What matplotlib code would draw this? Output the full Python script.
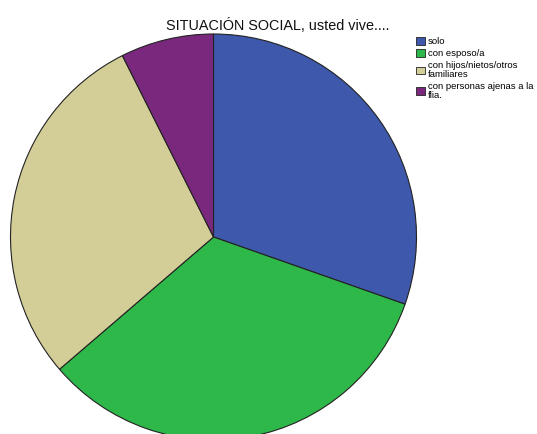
import matplotlib
matplotlib.use("Agg")
import matplotlib.pyplot as plt

plt.rcParams['font.family'] = ['Liberation Sans', 'DejaVu Sans']

# SITUACIÓN SOCIAL, usted vive....
labels = ['solo', 'con esposo/a', 'con hijos/nietos/otros\nfamiliares',
          'con personas ajenas a la\nflia.']
counts = [41, 45, 39, 10]
colors = ['#3e58ac', '#2eb84a', '#d3ce97', '#7a287d']

W, H = 537, 434
fig = plt.figure(figsize=(W / 100, H / 100), dpi=100)

# pie centre (213, 237) px from top-left, radius 203 px
cx, cy, r = 213.5, 237, 203
ax = fig.add_axes([(cx - r) / W, (H - cy - r) / H, 2 * r / W, 2 * r / H])
wedges, _ = ax.pie(counts, colors=colors, startangle=90, counterclock=False,
                   wedgeprops=dict(edgecolor='#222222', linewidth=0.8))
ax.set_xlim(-1.0, 1.0)
ax.set_ylim(-1.0, 1.0)
ax.set_aspect('equal')
ax.axis('off')

fig.text(278 / W, 1 - 26 / H, 'SITUACIÓN SOCIAL, usted vive....',
         ha='center', va='center', fontsize=10.4, color='#111111')

leg = fig.legend(wedges, labels, loc='upper left',
                 bbox_to_anchor=(416 / W, 1 - 37 / H), frameon=False,
                 fontsize=6.8, handlelength=0.9, handleheight=0.9,
                 handletextpad=0.35, labelspacing=0.32, borderpad=0,
                 borderaxespad=0)
for t in leg.get_texts():
    t.set_linespacing(0.95)
for h in leg.legend_handles:
    h.set_edgecolor('#222222')
    h.set_linewidth(0.6)

fig.savefig('out.png', dpi=100)
